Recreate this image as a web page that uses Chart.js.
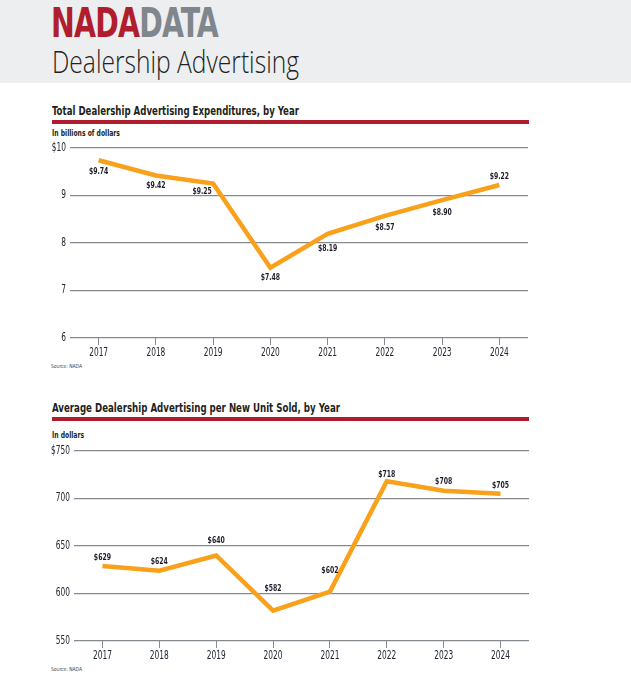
<!DOCTYPE html>
<html>
<head>
<meta charset="utf-8">
<script src="https://cdn.jsdelivr.net/npm/chart.js@4.4.1/dist/chart.umd.min.js"></script>
<style>
  html, body { margin: 0; padding: 0; background: #fff; }
  body { width: 631px; height: 686px; position: relative; overflow: hidden;
         font-family: 'DejaVu Sans Condensed', sans-serif; color: #231f20; }
  .header { position: absolute; left: 0; top: 0; width: 631px; height: 83px; background: #edeef0; }
  .logo { position: absolute; left: 51px; top: 0px; font-size: 40px; font-weight: bold; letter-spacing: -1px;
          transform-origin: left top; white-space: nowrap; }
  .logo .nada { color: #b01e2d; }
  .logo .data { color: #7f868c; }
  .page-title { position: absolute; left: 52px; top: 40px; font-family: 'Open Sans', sans-serif; font-weight: 300;
                font-size: 31px; color: #231f20; white-space: nowrap; transform-origin: left top; }
  .fit { position: absolute; left: 52px; white-space: nowrap; transform-origin: left top; }
  .ctitle { font-size: 13px; font-weight: bold; }
  .rule { position: absolute; left: 52px; width: 477px; height: 4px; background: #b01c2e; }
  .sub { font-size: 8.5px; font-weight: bold; }
  .src { font-size: 5.5px; color: #444; left: 51px; }
  canvas { position: absolute; }
</style>
</head>
<body>
<div class="header">
  <div class="logo" id="logo"><span class="nada">NADA</span><span class="data">DATA</span></div>
  <div class="page-title" id="ptitle">Dealership Advertising</div>
</div>

<div class="fit ctitle" id="t1" style="top:103px">Total Dealership Advertising Expenditures, by Year</div>
<div class="rule" style="top:120px"></div>
<div class="fit sub" id="s1" style="top:128px">In billions of dollars</div>
<div style="position:absolute;left:40px;top:137px;width:488px;height:225px"><canvas id="chart1"></canvas></div>
<div class="fit src" id="src1" style="top:363px">Source: NADA</div>

<div class="fit ctitle" id="t2" style="top:400px">Average Dealership Advertising per New Unit Sold, by Year</div>
<div class="rule" style="top:417px"></div>
<div class="fit sub" id="s2" style="top:430px">In dollars</div>
<div style="position:absolute;left:44px;top:440px;width:485px;height:225px"><canvas id="chart2"></canvas></div>
<div class="fit src" id="src2" style="top:666px">Source: NADA</div>

<script>
// data
const years = ['2017', '2018', '2019', '2020', '2021', '2022', '2023', '2024'];
const totalSpend = [9.74, 9.42, 9.25, 7.48, 8.19, 8.57, 8.90, 9.22];   // billions
const perUnit = [629, 624, 640, 582, 602, 718, 708, 705];               // dollars
const spendTicks = [6, 7, 8, 9, 10];
const unitTicks = [550, 600, 650, 700, 750];

// label nudges (px, relative to the point)
const nudge1 = [[0, 11], [0, 10], [-11, 8], [0, 10], [0, 15], [0, 12], [0, 12], [0, -8]];
const nudge2 = [[0, -8], [0, -9], [0, -15], [0, -22], [0, -21], [0, -7], [0, -9], [0, -8]];

const FONT = "'DejaVu Sans Condensed', sans-serif";
const ORANGE = '#f9a11b';
const GRID = '#868b8f';
const SQUEEZE = 0.72; // original uses a narrow condensed face

// squeeze html text to the widths in the original
function fitWidth(id, w) {
    const el = document.getElementById(id);
    const actual = el.getBoundingClientRect().width;
    if (actual > 0) el.style.transform = `scaleX(${w / actual})`;
}
fitWidth('logo', 167);
fitWidth('ptitle', 247);
fitWidth('t1', 247);
fitWidth('t2', 288);
fitWidth('s1', 68);
fitWidth('s2', 32);
fitWidth('src1', 31);
fitWidth('src2', 31);

// canvas text drawn narrower, anchored at its x so alignment holds
function squeezeText(ctx) {
    const orig = ctx.fillText.bind(ctx);
    ctx.fillText = function (text, x, y, maxWidth) {
        ctx.save();
        ctx.translate(x, y);
        ctx.scale(SQUEEZE, 1);
        orig(text, 0, 0);
        ctx.restore();
    };
    return ctx;
}

const valueLabels = {
    id: 'valueLabels',
    afterDatasetsDraw(chart, args, opts) {
        const ctx = chart.ctx;
        const meta = chart.getDatasetMeta(0);
        ctx.save();
        ctx.font = `bold 9.5px ${FONT}`;
        ctx.fillStyle = '#1f1d2b';
        ctx.textAlign = 'center';
        ctx.textBaseline = 'middle';
        meta.data.forEach((pt, i) => {
            const [dx, dy] = opts.nudge[i];
            ctx.fillText(opts.format(chart.data.datasets[0].data[i]), pt.x + dx, pt.y + dy);
        });
        ctx.restore();
    }
};

function makeChart(id, values, ticks, fmtTick, fmtLabel, nudge) {
    const ctx = squeezeText(document.getElementById(id).getContext('2d'));
    return new Chart(ctx, {
        type: 'line',
        data: {
            labels: years,
            datasets: [{
                data: values,
                borderColor: ORANGE,
                borderWidth: 4.5,
                pointRadius: 0,
                tension: 0,
                fill: false
            }]
        },
        plugins: [valueLabels],
        options: {
            responsive: true,
            maintainAspectRatio: false,
            animation: false,
            layout: { padding: { top: 7, right: 0, left: 0, bottom: 0 } },
            plugins: {
                legend: { display: false },
                tooltip: { enabled: false },
                valueLabels: { nudge: nudge, format: fmtLabel }
            },
            scales: {
                x: {
                    offset: true,
                    grid: {
                        display: true,
                        drawOnChartArea: false,
                        drawTicks: true,
                        tickLength: 7,
                        tickColor: GRID,
                        tickWidth: 1,
                        offset: false
                    },
                    border: { display: false },
                    ticks: {
                        color: '#222634',
                        font: { family: FONT, size: 11.5 },
                        padding: 1,
                        maxRotation: 0
                    },
                    afterFit(scale) { scale.height = 24; }
                },
                y: {
                    min: ticks[0],
                    max: ticks[ticks.length - 1],
                    afterBuildTicks(scale) { scale.ticks = ticks.map(v => ({ value: v })); },
                    grid: { color: GRID, lineWidth: 1.2, drawTicks: false },
                    border: { display: false },
                    ticks: {
                        color: '#222634',
                        font: { family: FONT, size: 11.5 },
                        padding: 4,
                        callback: fmtTick
                    },
                    afterFit(scale) { scale.width = 30; }
                }
            }
        }
    });
}

makeChart('chart1', totalSpend, spendTicks,
    v => v === 10 ? '$10' : String(v),
    v => '$' + v.toFixed(2),
    nudge1);

makeChart('chart2', perUnit, unitTicks,
    v => v === 750 ? '$750' : String(v),
    v => '$' + v,
    nudge2);
</script>
</body>
</html>
